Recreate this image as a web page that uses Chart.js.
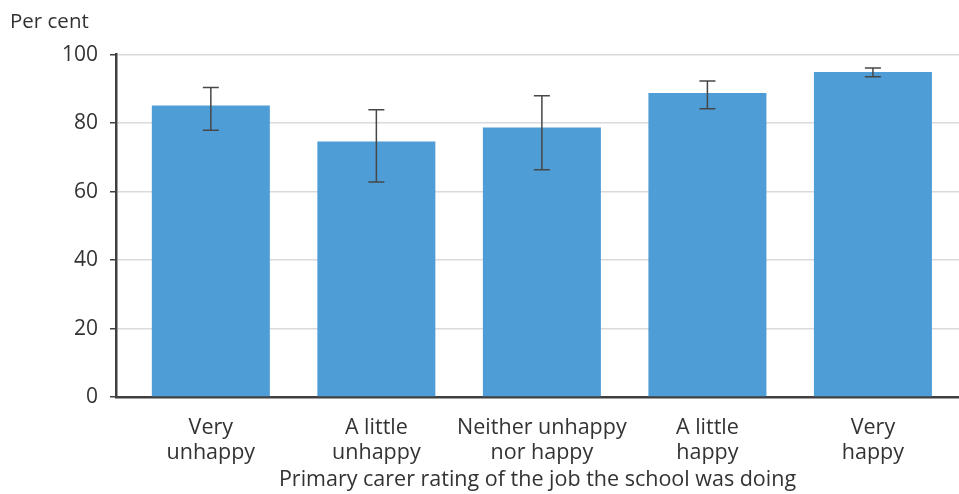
<!DOCTYPE html>
<html>
<head>
<meta charset="utf-8">
<script src="https://cdn.jsdelivr.net/npm/chart.js@4"></script>
<style>
    html, body { margin: 0; padding: 0; background: #fff; }
    #wrap { width: 959px; height: 494px; }
</style>
</head>
<body>
<div id="wrap"><canvas id="barChart" width="959" height="494"></canvas></div>
<script>
// categories and values
const categories = [
    ['Very', 'unhappy'],
    ['A little', 'unhappy'],
    ['Neither unhappy', 'nor happy'],
    ['A little', 'happy'],
    ['Very', 'happy']
];
const share = [85.1, 74.6, 78.7, 88.8, 94.9];
const lower = [77.9, 62.8, 66.4, 84.2, 93.5];
const upper = [90.4, 83.9, 88.0, 92.3, 96.1];
const yTicks = [0, 20, 40, 60, 80, 100];

const FONT = '"Open Sans", Lato, sans-serif';
const TEXT = '#333333';
const AXIS = '#404040';

// error bars drawn on top of the bars
const errorBars = {
    id: 'errorBars',
    afterDatasetsDraw(chart) {
        const ctx = chart.ctx;
        const y = chart.scales.y;
        const meta = chart.getDatasetMeta(0);
        ctx.save();
        ctx.strokeStyle = '#474747';
        ctx.lineWidth = 1.5;
        meta.data.forEach((bar, i) => {
            const top = y.getPixelForValue(upper[i]);
            const bot = y.getPixelForValue(lower[i]);
            ctx.beginPath();
            ctx.moveTo(bar.x, top);
            ctx.lineTo(bar.x, bot);
            ctx.moveTo(bar.x - 8, top);
            ctx.lineTo(bar.x + 8, top);
            ctx.moveTo(bar.x - 8, bot);
            ctx.lineTo(bar.x + 8, bot);
            ctx.stroke();
        });
        ctx.restore();
    }
};

const ctx = document.getElementById('barChart').getContext('2d');
const barChart = new Chart(ctx, {
    type: 'bar',
    data: {
        datasets: [{
            data: share.map((v, i) => ({ x: i, y: v })),
            backgroundColor: '#4f9dd6',
            barPercentage: 0.713,
            categoryPercentage: 1
        }]
    },
    options: {
        responsive: false,
        animation: false,
        layout: { padding: { left: 10, right: 0, top: 0, bottom: 0 } },
        plugins: {
            legend: { display: false },
            tooltip: { enabled: false },
            title: {
                display: true,
                text: 'Per cent',
                align: 'start',
                color: TEXT,
                font: { family: FONT, size: 20.5, weight: 'normal', lineHeight: 1.2 },
                padding: { top: 10, bottom: 20 }
            }
        },
        scales: {
            x: {
                type: 'linear',
                offset: false,
                min: -0.573,
                max: 4.52,
                afterBuildTicks: scale => {
                    scale.ticks = categories.map((c, i) => ({ value: i }));
                },
                afterFit: scale => { scale.height = 97; },
                grid: { display: false, drawTicks: false },
                border: { display: true, color: AXIS, width: 2.5 },
                ticks: {
                    autoSkip: false,
                    maxRotation: 0,
                    padding: 18,
                    color: TEXT,
                    font: { family: FONT, size: 21.5, lineHeight: 1.17 },
                    callback: value => categories[value]
                },
                title: {
                    display: true,
                    text: 'Primary carer rating of the job the school was doing',
                    color: TEXT,
                    font: { family: FONT, size: 21.5, lineHeight: 1.2 },
                    padding: { top: 0, bottom: 1 }
                }
            },
            y: {
                min: 0,
                max: 100,
                afterFit: scale => { scale.width = 106; },
                afterBuildTicks: scale => {
                    scale.ticks = yTicks.map(v => ({ value: v }));
                },
                grid: {
                    color: '#d9d9de',
                    lineWidth: 1.5,
                    tickColor: AXIS,
                    tickLength: 6,
                    tickWidth: 1.5
                },
                border: { display: true, color: AXIS, width: 2.5 },
                ticks: {
                    padding: 12,
                    color: TEXT,
                    font: { family: FONT, size: 21 }
                }
            }
        }
    },
    plugins: [errorBars]
});
</script>
</body>
</html>
